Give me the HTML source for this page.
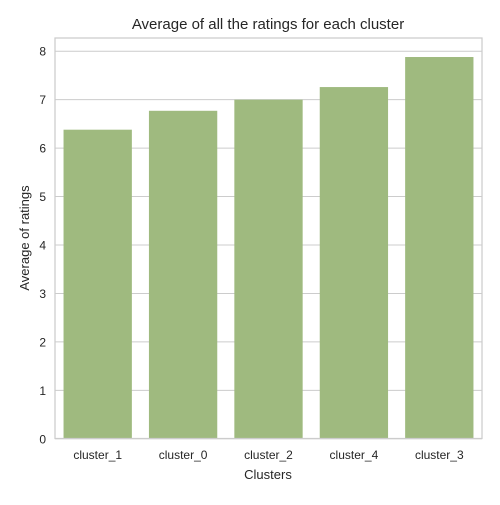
<!DOCTYPE html>
<html><head><meta charset="utf-8"><style>
body{margin:0;background:#fff;}
svg text{font-family:"Liberation Sans",Arial,sans-serif;fill:#262626;}
</style></head><body>
<svg id="chart" width="500" height="500">
<rect x="0" y="0" width="500" height="500" fill="#fff"/>
<text x="268" y="29" font-size="15" text-anchor="middle">Average of all the ratings for each cluster</text>
<g id="grid"></g>
<g id="bars"></g>
<rect x="55" y="38" width="427" height="400.5" fill="none" stroke="#cccccc" stroke-width="1.25"/>
<g id="labels"></g>
<text x="268" y="479" font-size="13" text-anchor="middle">Clusters</text>
<text transform="translate(29,238) rotate(-90)" font-size="13" text-anchor="middle">Average of ratings</text>
</svg>
<script>
const categories=["cluster_1","cluster_0","cluster_2","cluster_4","cluster_3"];
const values=[6.38,6.77,7.0,7.26,7.88];
const yTicks=[0,1,2,3,4,5,6,7,8];
const L=55,R=482,Y0=438.8,PX=48.45;
const y=v=>Y0-v*PX;
const band=(R-L)/categories.length;
const x=i=>L+band*i;
const NS="http://www.w3.org/2000/svg";
const g=document.getElementById('grid'),b=document.getElementById('bars'),lb=document.getElementById('labels');
yTicks.forEach(t=>{
 const l=document.createElementNS(NS,'line');
 l.setAttribute('x1',L);l.setAttribute('x2',R);l.setAttribute('y1',y(t));l.setAttribute('y2',y(t));
 l.setAttribute('stroke','#cccccc');l.setAttribute('stroke-width','1');
 
 
 g.appendChild(l);
 const tx=document.createElementNS(NS,'text');
 tx.setAttribute('x',L-9);tx.setAttribute('y',y(t)+4.5);tx.setAttribute('text-anchor','end');tx.setAttribute('font-size','12');
 tx.textContent=t;
 
 
 lb.appendChild(tx);
});
categories.forEach((c,i)=>{
 const r=document.createElementNS(NS,'rect');
 const w=band*0.8;
 r.setAttribute('x',x(i)+band*0.1);r.setAttribute('width',w);
 r.setAttribute('y',y(values[i]));r.setAttribute('height',Y0-y(values[i]));
 r.setAttribute('fill','#9fba7f');
 
 
 b.appendChild(r);
 const tx=document.createElementNS(NS,'text');
 tx.setAttribute('x',x(i)+band/2);tx.setAttribute('y',459);tx.setAttribute('text-anchor','middle');tx.setAttribute('font-size','12');
 tx.textContent=c;
 
 
 lb.appendChild(tx);
});
</script>
</body></html>
